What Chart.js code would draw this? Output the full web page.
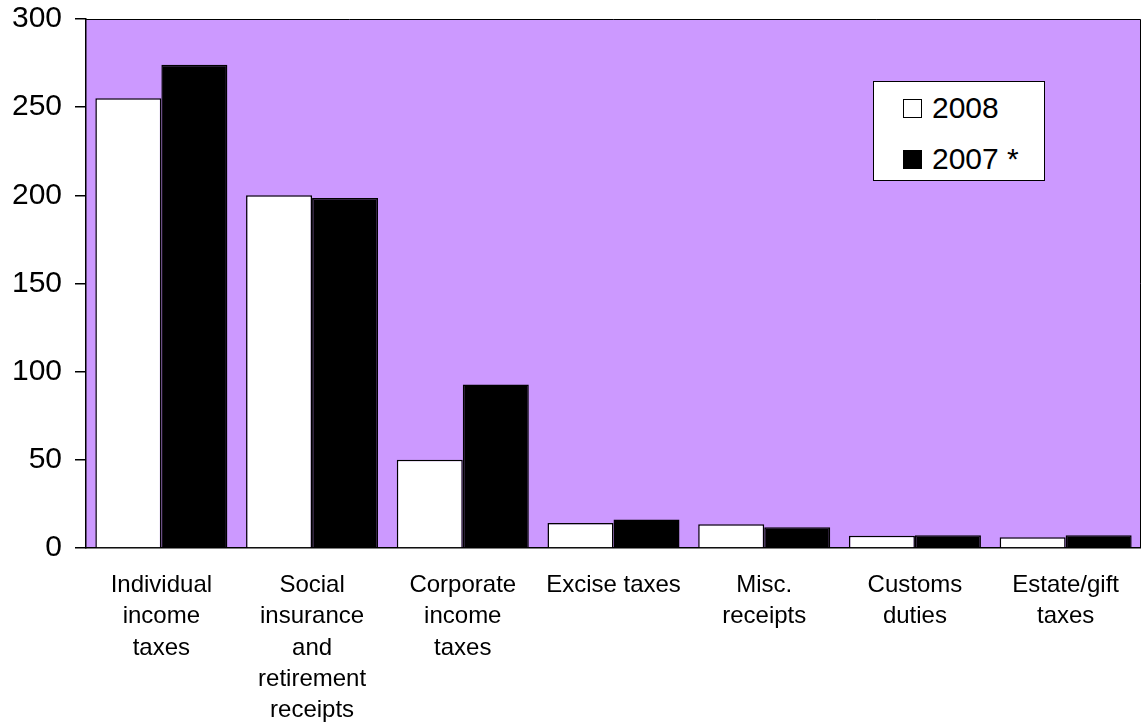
<!DOCTYPE html>
<html>
<head>
<meta charset="utf-8">
<script src="https://cdn.jsdelivr.net/npm/chart.js@4.4.1/dist/chart.umd.min.js"></script>
<style>
  html, body { margin: 0; padding: 0; background: #fff; }
  #wrap { position: relative; width: 1141px; height: 723px; }
  #legend {
    position: absolute; left: 873px; top: 81px; width: 170px; height: 98px;
    background: #fff; border: 1px solid #000;
    font-family: Arial, "Liberation Sans", sans-serif; font-size: 30px; color: #000;
  }
  .row { position: absolute; left: 29px; height: 32px; display: flex; align-items: center; }
  .sw { width: 19px; height: 19px; border: 1px solid #000; margin-right: 10px; box-sizing: border-box; }
</style>
</head>
<body>
<div id="wrap">
  <canvas id="c" width="1141" height="723"></canvas>
  <div id="legend"></div>
</div>
<script>
'use strict';

const categories = [
  ['Individual', 'income', 'taxes'],
  ['Social', 'insurance', 'and', 'retirement', 'receipts'],
  ['Corporate', 'income', 'taxes'],
  ['Excise taxes'],
  ['Misc.', 'receipts'],
  ['Customs', 'duties'],
  ['Estate/gift', 'taxes']
];
const seriesLabels = ['2008', '2007 *'];
const values2008 = [255, 200, 50, 14.2, 13.4, 7.0, 6.1];
const values2007 = [274, 198.5, 92.7, 16.1, 11.7, 7.2, 7.2];
const yTicks = [0, 50, 100, 150, 200, 250, 300];

const FONT = 'Arial, "Liberation Sans", sans-serif';

const plotBg = {
  id: 'plotBg',
  beforeDraw: function (chart) {
    const a = chart.chartArea;
    const ctx = chart.ctx;
    ctx.save();
    ctx.fillStyle = '#cc99ff';
    ctx.fillRect(a.left, a.top, a.right - a.left, a.bottom - a.top);
    ctx.restore();
  },
  afterDraw: function (chart) {
    const a = chart.chartArea;
    const ctx = chart.ctx;
    ctx.save();
    ctx.strokeStyle = '#000';
    ctx.lineWidth = 1;
    ctx.beginPath();
    ctx.moveTo(a.left, a.top + 0.5);
    ctx.lineTo(a.right - 0.5, a.top + 0.5);
    ctx.lineTo(a.right - 0.5, a.bottom);
    ctx.stroke();
    ctx.restore();
  }
};

const chart = new Chart(document.getElementById('c'), {
  type: 'bar',
  data: {
    labels: categories,
    datasets: [
      {
        label: seriesLabels[0],
        data: values2008,
        backgroundColor: '#ffffff',
        borderColor: '#000000',
        borderWidth: 1.5,
        categoryPercentage: 0.876,
        barPercentage: 1.0
      },
      {
        label: seriesLabels[1],
        data: values2007,
        backgroundColor: '#000000',
        borderColor: '#000000',
        borderWidth: 1.5,
        categoryPercentage: 0.876,
        barPercentage: 1.0
      }
    ]
  },
  options: {
    responsive: false,
    animation: false,
    devicePixelRatio: 1,
    layout: { padding: { left: 0, right: 0, top: 19, bottom: 0 } },
    plugins: {
      legend: { display: false },
      tooltip: { enabled: false }
    },
    scales: {
      x: {
        afterFit: function (axis) {
          axis.height = 175;
          axis.paddingLeft = 0;
          axis.paddingRight = 0;
        },
        grid: { display: false },
        border: { display: true, color: '#000', width: 1.5 },
        ticks: {
          color: '#000',
          padding: 14,
          maxRotation: 0,
          autoSkip: false,
          font: { family: FONT, size: 24, lineHeight: 1.3 }
        }
      },
      y: {
        min: 0,
        max: 300,
        afterBuildTicks: function (axis) {
          axis.ticks = yTicks.map(function (v) { return { value: v }; });
        },
        afterFit: function (axis) {
          axis.width = 86;
          axis.paddingTop = 0;
          axis.paddingBottom = 0;
        },
        grid: {
          drawOnChartArea: false,
          drawTicks: true,
          tickLength: 11,
          color: '#000',
          lineWidth: 1.5
        },
        border: { display: true, color: '#000', width: 1.5 },
        ticks: {
          color: '#000',
          padding: 13,
          font: { family: FONT, size: 30 }
        }
      }
    }
  },
  plugins: [plotBg]
});

// legend box drawn from the dataset labels
const legendEl = document.getElementById('legend');
chart.data.datasets.forEach(function (ds, i) {
  const row = document.createElement('div');
  row.className = 'row';
  row.style.top = (10 + i * 51) + 'px';
  const sw = document.createElement('span');
  sw.className = 'sw';
  sw.style.background = ds.backgroundColor;
  const txt = document.createElement('span');
  txt.textContent = ds.label;
  row.appendChild(sw);
  row.appendChild(txt);
  legendEl.appendChild(row);
});
</script>
</body>
</html>
